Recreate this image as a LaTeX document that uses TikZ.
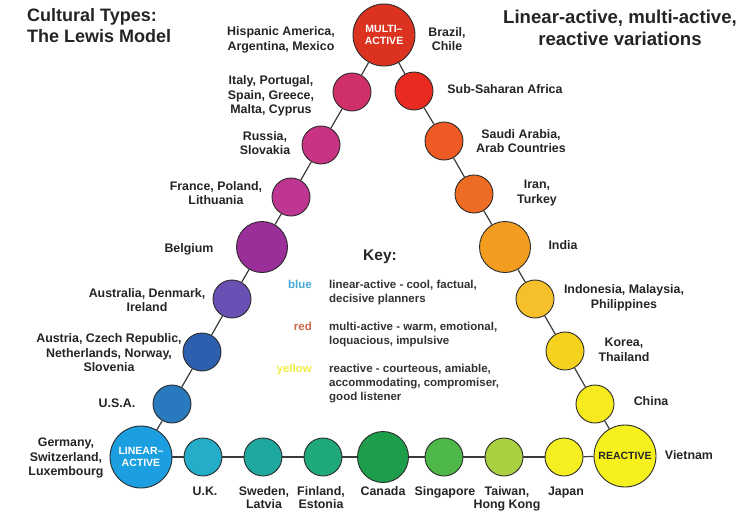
\documentclass[tikz,border=0pt]{standalone}
\usepackage{fontspec}
\setmainfont{Liberation Sans}
\definecolor{ballline}{HTML}{2B2B2B}
\definecolor{linkline}{HTML}{3A3A3A}
\definecolor{labeltext}{HTML}{242424}
\definecolor{keytext}{HTML}{333333}
\definecolor{cMulti}{HTML}{DC3320}
\definecolor{cItaly}{HTML}{CF2F6B}
\definecolor{cRussia}{HTML}{C93383}
\definecolor{cFrance}{HTML}{BE3592}
\definecolor{cBelgium}{HTML}{9B2F9A}
\definecolor{cAustralia}{HTML}{6A4FB5}
\definecolor{cAustria}{HTML}{2E5EAE}
\definecolor{cUSA}{HTML}{2A79BE}
\definecolor{cLinear}{HTML}{1C9FE0}
\definecolor{cUK}{HTML}{23ADC9}
\definecolor{cSweden}{HTML}{1FA8A0}
\definecolor{cFinland}{HTML}{1FA97A}
\definecolor{cCanada}{HTML}{1E9E4A}
\definecolor{cSingapore}{HTML}{4EB848}
\definecolor{cTaiwan}{HTML}{A8D040}
\definecolor{cJapan}{HTML}{F5EE20}
\definecolor{cReactive}{HTML}{F6F01E}
\definecolor{cChina}{HTML}{F7EA1F}
\definecolor{cKorea}{HTML}{F5D21E}
\definecolor{cIndonesia}{HTML}{F6C02C}
\definecolor{cIndia}{HTML}{F39C20}
\definecolor{cIran}{HTML}{EE6B24}
\definecolor{cSaudi}{HTML}{ED5A24}
\definecolor{cSub}{HTML}{E82A20}
\definecolor{keyblue}{HTML}{45A9D5}
\definecolor{keyred}{HTML}{C76A4A}
\definecolor{keyyellow}{HTML}{F0EC45}
\begin{document}
\begin{tikzpicture}[x=1pt,y=-1pt,
  ball/.style={circle,draw=ballline,line width=0.9pt,inner sep=0pt,minimum size=38pt},
  midball/.style={ball,minimum size=51pt},
  bigball/.style={ball,minimum size=62pt,align=center,font=\fontsize{10.5}{11.5}\selectfont\bfseries},
  link/.style={linkline,line width=1.2pt},
  country/.style={align=center,text=labeltext,inner sep=0pt,font=\fontsize{12.4}{14.5}\selectfont\bfseries},
  bottom/.style={country,anchor=base,font=\fontsize{12.4}{13.8}\selectfont\bfseries},
  title/.style={text=labeltext,inner sep=0pt,font=\fontsize{18}{21.5}\selectfont\bfseries},
  keyword/.style={anchor=base east,inner sep=0pt,font=\fontsize{11.5}{14}\selectfont\bfseries},
  keydesc/.style={anchor=base west,align=left,inner sep=0pt,text=keytext,font=\fontsize{11.5}{14}\selectfont\bfseries}]
\useasboundingbox (0,0) rectangle (756,512);

\node[title,align=left,anchor=north west] (T1) at (27,8) {Cultural Types:\\The Lewis Model};
\node[title,align=center,font=\fontsize{18.6}{22}\selectfont\bfseries] (T2) at (620,28) {Linear-active, multi-active,\\reactive variations};

\node[bigball,fill=cMulti,text=white] (multi) at (384,35) {MULTI--\\ACTIVE};
\node[bigball,fill=cLinear,text=white] (linear) at (141,457) {LINEAR--\\ACTIVE};
\node[bigball,fill=cReactive,text=labeltext] (reactive) at (625,456) {REACTIVE};

\node[ball,fill=cItaly] (italy) at (352,92) {};
\node[ball,fill=cRussia] (russia) at (321,145) {};
\node[ball,fill=cFrance] (france) at (291,197) {};
\node[midball,fill=cBelgium] (belgium) at (262,247) {};
\node[ball,fill=cAustralia] (australia) at (232,299) {};
\node[ball,fill=cAustria] (austria) at (202,352) {};
\node[ball,fill=cUSA] (usa) at (172,404) {};

\node[ball,fill=cSub] (sub) at (414,91) {};
\node[ball,fill=cSaudi] (saudi) at (444,141) {};
\node[ball,fill=cIran] (iran) at (474,194) {};
\node[midball,fill=cIndia] (india) at (505,247) {};
\node[ball,fill=cIndonesia] (indonesia) at (535,299) {};
\node[ball,fill=cKorea] (korea) at (565,351) {};
\node[ball,fill=cChina] (china) at (595,404) {};

\node[ball,fill=cUK] (uk) at (203,457) {};
\node[ball,fill=cSweden] (sweden) at (263,457) {};
\node[ball,fill=cFinland] (finland) at (323,457) {};
\node[midball,fill=cCanada] (canada) at (383,457) {};
\node[ball,fill=cSingapore] (singapore) at (444,457) {};
\node[ball,fill=cTaiwan] (taiwan) at (504,457) {};
\node[ball,fill=cJapan] (japan) at (564,457) {};

\foreach \a/\b in {linear/usa,usa/austria,austria/australia,australia/belgium,belgium/france,
  france/russia,russia/italy,italy/multi,multi/sub,sub/saudi,saudi/iran,iran/india,india/indonesia,
  indonesia/korea,korea/china,china/reactive,reactive/japan,japan/taiwan,taiwan/singapore,
  singapore/canada,canada/finland,finland/sweden,sweden/uk,uk/linear}
  \draw[link] (\a) -- (\b);

\node[country] (hispL) at (281,40) {Hispanic America,\\Argentina, Mexico};
\node[country] (brazilL) at (447,39) {Brazil,\\Chile};
\node[country] (italyL) at (271,96) {Italy, Portugal,\\Spain, Greece,\\Malta, Cyprus};
\node[country] (subL) at (505,89) {Sub-Saharan Africa};
\node[country] (russiaL) at (265,143) {Russia,\\Slovakia};
\node[country] (saudiL) at (521,141) {Saudi Arabia,\\Arab Countries};
\node[country] (franceL) at (216,193) {France, Poland,\\Lithuania};
\node[country] (iranL) at (537,193) {Iran,\\Turkey};
\node[country] (belgiumL) at (189,249) {Belgium};
\node[country] (indiaL) at (563,245) {India};
\node[country] (australiaL) at (147,300) {Australia, Denmark,\\Ireland};
\node[country] (indonesiaL) at (624,298) {Indonesia, Malaysia,\\Philippines};
\node[country] (austriaL) at (109,353) {Austria, Czech Republic,\\Netherlands, Norway,\\Slovenia};
\node[country] (koreaL) at (624,350) {Korea,\\Thailand};
\node[country] (usaL) at (117,403) {U.S.A.};
\node[country] (chinaL) at (651,401) {China};
\node[country] (germanyL) at (66,458) {Germany,\\Switzerland,\\Luxembourg};
\node[country] (vietnamL) at (689,455) {Vietnam};

\node[bottom] (ukL) at (205,495) {U.K.};
\node[bottom] (swedenL) at (264,508.8) {Sweden,\\Latvia};
\node[bottom] (finlandL) at (321,508.8) {Finland,\\Estonia};
\node[bottom] (canadaL) at (383,495) {Canada};
\node[bottom] (singaporeL) at (445,495) {Singapore};
\node[bottom] (taiwanL) at (507,508.8) {Taiwan,\\Hong Kong};
\node[bottom] (japanL) at (566,495) {Japan};

\node[country,font=\fontsize{15.5}{18}\selectfont\bfseries] (key) at (380,257) {Key:};
\node[keyword,text=keyblue] (kblue) at (312,288) {blue};
\node[keydesc] (dblue) at (329,302) {linear-active - cool, factual,\\decisive planners};
\node[keyword,text=keyred] (kred) at (312,330) {red};
\node[keydesc] (dred) at (329,344) {multi-active - warm, emotional,\\loquacious, impulsive};
\node[keyword,text=keyyellow] (kyellow) at (312,372) {yellow};
\node[keydesc] (dyellow) at (329,400) {reactive - courteous, amiable,\\accommodating, compromiser,\\good listener};
\end{tikzpicture}
\end{document}
